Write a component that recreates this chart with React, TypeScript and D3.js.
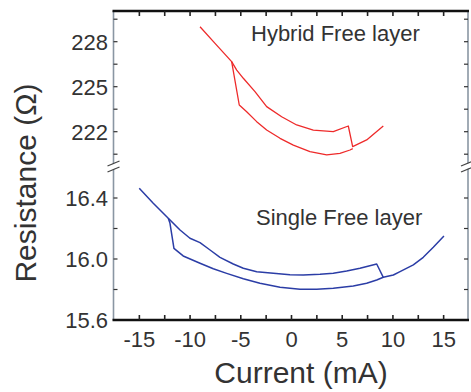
import React from "react";
import * as d3 from "d3";

const xTickLabels = [-15, -10, -5, 0, 5, 10, 15];
const xMinorTicks = [-15, -12.5, -10, -7.5, -5, -2.5, 0, 2.5, 5, 7.5, 10, 12.5, 15];
const topTickLabels = [222, 225, 228];
const topMinorTicks = [220.5, 222, 223.5, 225, 226.5, 228, 229.5];
const botTickLabels = [15.6, 16.0, 16.4];
const botMinorTicks = [15.8, 16.0, 16.2, 16.4];

// Hybrid free layer (red), two branches
const hybridAX = [-9.02, -7.54, -5.9, -5.4, -4.75, -3.6, -2.45, -0.97, 0.51, 2.15, 4.12, 5.6, 6.03, 7.41, 9.05];
const hybridAY = [229.0, 227.89, 226.67, 226.11, 225.56, 224.67, 223.67, 223.0, 222.45, 222.11, 222.0, 222.38, 221.0, 221.45, 222.38];
const hybridBX = [-5.9, -5.15, -4.42, -3.43, -2.45, -1.13, 0.18, 1.82, 3.47, 4.78, 5.77, 6.04];
const hybridBY = [226.67, 223.78, 223.33, 222.67, 222.11, 221.56, 221.11, 220.67, 220.45, 220.56, 220.78, 220.87];

// Single free layer (blue), two branches
const singleAX = [-15.01, -13.63, -12.15, -10.99, -10.01, -9.02, -8.03, -7.05, -5.74, -4.75, -3.43, -1.79, -0.15, 1.16, 2.81, 4.12, 5.44, 6.75, 8.4, 9.05, 10.04, 10.7, 12.01, 12.99, 13.98, 15.03];
const singleAY = [16.464, 16.365, 16.267, 16.19, 16.136, 16.107, 16.059, 16.011, 15.967, 15.939, 15.917, 15.906, 15.897, 15.895, 15.9, 15.906, 15.921, 15.939, 15.967, 15.88, 15.895, 15.917, 15.961, 16.011, 16.077, 16.151];
const singleBX = [-12.15, -11.98, -11.59, -10.68, -9.02, -7.71, -6.39, -4.75, -3.11, -1.13, 0.84, 2.48, 4.12, 6.09, 7.41, 8.4, 9.05];
const singleBY = [16.267, 16.234, 16.07, 16.02, 15.972, 15.936, 15.906, 15.871, 15.841, 15.815, 15.801, 15.801, 15.808, 15.823, 15.841, 15.862, 15.88];

const W = 471;
const H = 392;
const L = 113.5, R = 469, T = 11, B = 320;
const BREAK = 165;

export default function App() {
  const x = d3.scaleLinear().domain([-17.5, 17.5]).range([114, 469]);
  const yTop = d3.scaleLinear().domain([222, 228]).range([131.7, 41.7]);
  const yBot = d3.scaleLinear().domain([15.6, 16.6]).range([320, 167.5]);

  const zip = (xs: number[], ys: number[]) => xs.map((v, i) => [v, ys[i]] as [number, number]);
  const lineTop = d3.line<[number, number]>().x(d => x(d[0])).y(d => yTop(d[1]));
  const lineBot = d3.line<[number, number]>().x(d => x(d[0])).y(d => yBot(d[1]));

  const font = "Liberation Sans, Arial, sans-serif";
  const txt = "#333";
  const red = "#ee2a2a";
  const blue = "#2b3da6";
  const axisGray = "#8a96a3";

  const breakMark = (cx: number) => (
    <g>
      <polygon points={`${cx - 6},${BREAK + 2} ${cx + 6},${BREAK - 4} ${cx + 6},${BREAK + 1} ${cx - 6},${BREAK + 7}`} fill="white" />
      <line x1={cx - 6} y1={BREAK + 1} x2={cx + 6} y2={BREAK - 4} stroke="#444" strokeWidth={1.3} />
      <line x1={cx - 6} y1={BREAK + 7} x2={cx + 6} y2={BREAK + 2} stroke="#444" strokeWidth={1.3} />
    </g>
  );

  return (
    <svg width={W} height={H} style={{ position: "absolute", left: 0, top: 0 }} fontFamily={font}>
      <rect width={W} height={H} fill="white" />
      <line x1={L} y1={T} x2={L} y2={B} stroke={axisGray} strokeWidth={1.6} />
      <line x1={R - 1} y1={T} x2={R - 1} y2={B} stroke={axisGray} strokeWidth={1.6} />
      <line x1={L - 1} y1={T} x2={R} y2={T} stroke="#111" strokeWidth={2.4} />
      <line x1={L - 1} y1={B} x2={R} y2={B} stroke="#111" strokeWidth={2.4} />

      {xMinorTicks.map(t => (
        <g key={"xt" + t}>
          <line x1={x(t)} y1={B} x2={x(t)} y2={B - 5} stroke="#222" strokeWidth={1.6} />
          <line x1={x(t)} y1={T} x2={x(t)} y2={T + 5} stroke="#222" strokeWidth={1.6} />
        </g>
      ))}
      {xTickLabels.map(t => (
        <text key={"xl" + t} x={x(t)} y={347} textAnchor="middle" fontSize={22} fill={txt}>
          {t < 0 ? "-" + Math.abs(t) : String(t)}
        </text>
      ))}

      {topMinorTicks.map(t => (
        <g key={"yt" + t}>
          <line x1={L} y1={yTop(t)} x2={L + 4} y2={yTop(t)} stroke="#333" strokeWidth={1.2} />
          <line x1={R - 1} y1={yTop(t)} x2={R - 5} y2={yTop(t)} stroke="#333" strokeWidth={1.2} />
        </g>
      ))}
      {topTickLabels.map(t => (
        <text key={"yl" + t} x={108} y={yTop(t) + 8} textAnchor="end" fontSize={22} fill={txt}>
          {t}
        </text>
      ))}
      {botMinorTicks.map(t => (
        <g key={"bt" + t}>
          <line x1={L} y1={yBot(t)} x2={L + 4} y2={yBot(t)} stroke="#333" strokeWidth={1.2} />
          <line x1={R - 1} y1={yBot(t)} x2={R - 5} y2={yBot(t)} stroke="#333" strokeWidth={1.2} />
        </g>
      ))}
      {botTickLabels.map(t => (
        <text key={"bl" + t} x={108} y={yBot(t) + 8} textAnchor="end" fontSize={22} fill={txt}>
          {t.toFixed(1)}
        </text>
      ))}

      {breakMark(L)}
      {breakMark(R - 2)}

      <path d={lineTop(zip(hybridAX, hybridAY)) || ""} fill="none" stroke={red} strokeWidth={1.3} strokeLinejoin="round" />
      <path d={lineTop(zip(hybridBX, hybridBY)) || ""} fill="none" stroke={red} strokeWidth={1.3} strokeLinejoin="round" />
      <path d={lineBot(zip(singleAX, singleAY)) || ""} fill="none" stroke={blue} strokeWidth={1.5} strokeLinejoin="round" />
      <path d={lineBot(zip(singleBX, singleBY)) || ""} fill="none" stroke={blue} strokeWidth={1.5} strokeLinejoin="round" />

      <text x={251} y={41} fontSize={22} fill={txt}>Hybrid Free layer</text>
      <text x={256} y={225} fontSize={22} fill={txt}>Single Free layer</text>

      <text x={301} y={383} textAnchor="middle" fontSize={30} fill={txt}>Current (mA)</text>
      <text transform="translate(36,183) rotate(-90)" textAnchor="middle" fontSize={30} fill={txt}>Resistance (Ω)</text>
    </svg>
  );
}
